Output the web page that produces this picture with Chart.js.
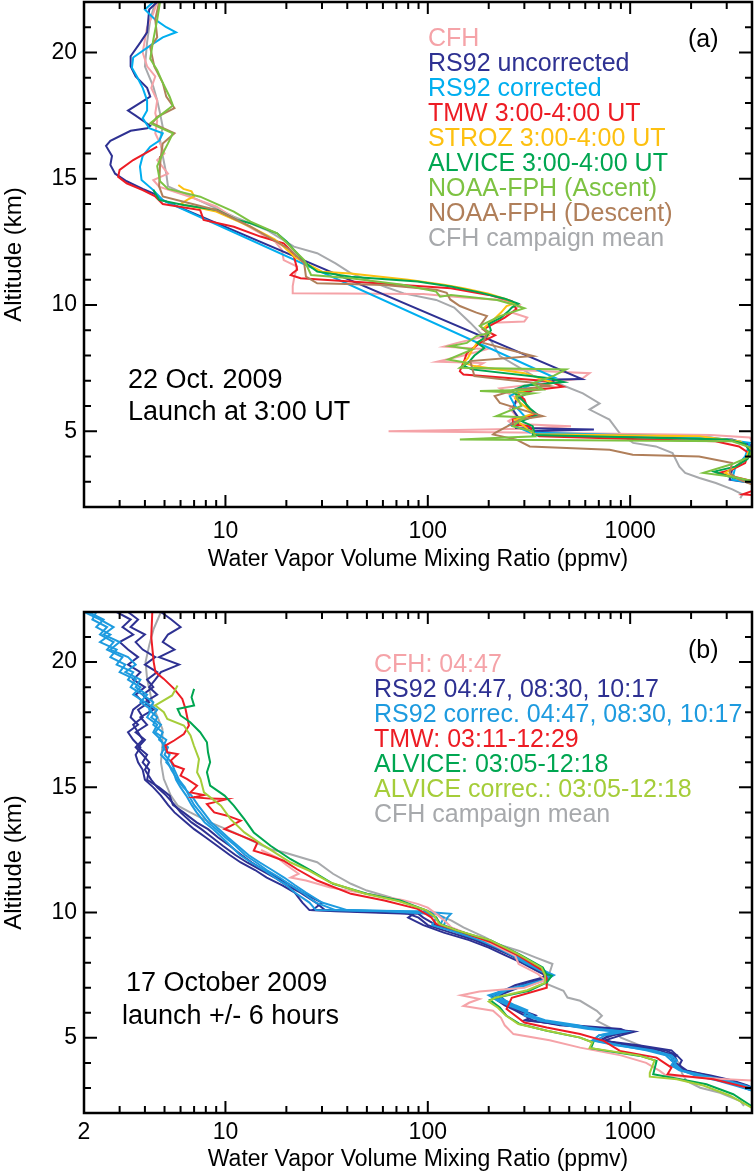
<!DOCTYPE html>
<html>
<head>
<meta charset="utf-8">
<title>Water vapour profiles</title>
<script src="https://cdn.jsdelivr.net/npm/chart.js@4.4.1/dist/chart.umd.min.js"></script>
<style>
  html, body { margin: 0; padding: 0; background: #fff; }
  #page { position: relative; width: 754px; height: 1176px; overflow: hidden; }
  #page canvas { position: absolute; left: 0; }
</style>
</head>
<body>
<div id="page">
  <canvas id="panelA" width="754" height="588" style="top:0"></canvas>
  <canvas id="panelB" width="754" height="588" style="top:588px"></canvas>
</div>
<script>
// ---------- panel (a): 22 Oct. 2009 (altitude km / mixing ratio ppmv) ----------
const aCfhAlt = [22.0, 21.55, 21.0, 20.5, 20.0, 19.45, 19.05, 18.6, 18.1, 17.6, 17.3, 16.8, 16.4, 16.0, 15.74, 15.2, 14.95, 14.69, 14.29, 13.9, 13.37, 12.84, 12.51, 12.18, 11.78, 11.52, 11.12, 10.75, 10.47, 10.44, 10.3, 10.2, 10.0, 9.7, 9.5, 9.35, 9.3, 9.05, 8.8, 8.5, 8.35, 8.25, 8.0, 7.75, 7.7, 7.5, 7.3, 7.1, 6.95, 6.7, 6.5, 6.25, 5.9, 5.6, 5.4, 5.3, 5.2, 5.1, 5.0, 4.95, 4.85, 4.75, 4.5, 4.3, 4.1];
const aCfhPpmv = [4.6, 4.4, 4.1, 4.0, 3.9, 4.1, 4.5, 4.3, 4.6, 4.5, 4.6, 4.5, 4.75, 5.0, 4.6, 5.2, 4.4, 4.7, 6.6, 9.0, 11.4, 14.9, 17.6, 19.0, 19.4, 22.6, 21.9, 21.5, 21.5, 95, 150, 230, 285, 260, 310, 300, 210, 188, 200, 140, 120, 196, 150, 111, 188, 170, 630, 583, 420, 227, 250, 285, 254, 274, 250, 260, 510, 300, 64, 280, 2500, 3900, 4100, 3900, 4500];

const aRs92uAlt = [22.0, 21.7, 20.8, 20.4, 19.85, 19.45, 19.05, 18.6, 18.25, 17.7, 17.5, 17.1, 17.0, 16.9, 16.5, 16.3, 15.9, 15.55, 15.2, 14.9, 14.6, 14.35, 14.15, 7.07, 7.05, 6.65, 6.26, 5.86, 5.46, 5.13, 5.07, 5.0, 4.87, 4.67, 4.47, 4.0, 3.48, 3.08, 2.95];
const aRs92uPpmv = [4.6, 4.2, 4.1, 3.8, 3.4, 3.4, 3.6, 4.1, 4.25, 3.3, 3.6, 4.25, 4.1, 3.4, 2.7, 2.57, 2.75, 2.7, 2.85, 3.25, 3.9, 4.6, 4.9, 578, 431, 331, 274, 263, 285, 274, 662, 331, 355, 3190, 3900, 3900, 3190, 3100, 4030];

const aRs92cAlt = [22.0, 21.7, 21.3, 21.0, 20.8, 20.6, 20.3, 19.8, 19.4, 19.05, 18.6, 18.1, 17.7, 17.4, 17.0, 16.8, 16.5, 16.27, 15.9, 15.48, 14.95, 14.55, 14.15, 7.12, 6.9, 6.39, 6.0, 5.6, 5.26, 5.13, 4.95, 4.75, 4.54, 4.0, 3.54, 3.08, 2.95];
const aRs92cPpmv = [4.4, 4.0, 4.5, 5.1, 5.7, 4.9, 4.3, 3.5, 3.45, 3.65, 3.9, 4.1, 4.1, 3.9, 4.2, 4.9, 4.7, 4.25, 3.9, 3.78, 3.85, 4.4, 4.9, 425, 330, 254, 270, 300, 254, 285, 320, 2500, 3900, 3700, 3300, 3190, 4030];

const aTmwAlt = [16.27, 15.74, 15.35, 15.08, 14.82, 14.55, 14.3, 14.0, 13.76, 13.37, 13.1, 12.71, 12.44, 12.18, 11.92, 11.5, 11.39, 11.27, 11.19, 11.06, 10.93, 10.66, 10.4, 10.15, 9.83, 9.5, 9.03, 8.8, 8.5, 8.1, 7.84, 7.38, 7.25, 6.98, 6.76, 6.65, 6.52, 6.26, 5.95, 5.66, 5.46, 5.26, 5.2, 4.93, 4.8, 4.69, 4.6, 4.4, 4.14, 3.74, 3.48, 3.35, 3.22, 3.02, 2.75, 2.5, 2.45];
const aTmwPpmv = [4.6, 3.5, 3.0, 2.95, 3.25, 3.9, 4.5, 4.9, 7.5, 7.8, 11, 14.9, 19.4, 20.9, 21.8, 22.5, 22.6, 21.5, 21, 23.5, 41.6, 130, 200, 260, 274, 240, 188, 215, 181, 156, 152, 144, 150, 400, 466, 355, 274, 300, 310, 345, 263, 263, 318, 331, 355, 1030, 2640, 3450, 3850, 3700, 3190, 2740, 3190, 4030, 4400, 3600, 4400];

const aStrozAlt = [14.75, 14.6, 14.5, 14.3, 14.17, 14.0, 13.7, 13.1, 12.6, 12.31, 11.9, 11.65, 11.32, 11.25, 11.0, 10.8, 10.66, 10.45, 10.2, 10.05, 9.96, 9.7, 9.4, 9.1, 8.8, 8.5, 8.2, 7.9, 7.71, 7.58, 7.3, 6.92, 6.79, 6.55, 6.3, 6.0, 5.7, 5.45, 5.2, 5.0, 4.88, 4.8, 4.6, 4.3, 3.87, 3.6, 3.35, 3.2, 3.0];
const aStrozPpmv = [5.85, 6.2, 6.8, 7.0, 6.5, 6.0, 9.0, 13.3, 17.5, 19.4, 22, 25, 30, 41.6, 80, 120, 150, 200, 250, 265, 245, 230, 210, 190, 200, 175, 165, 158, 150, 170, 300, 415, 370, 280, 270, 300, 330, 270, 300, 320, 340, 2200, 3500, 3900, 3700, 3300, 2950, 3190, 4100];

const aAlviceAlt = [14.56, 14.16, 13.96, 13.76, 13.37, 13.24, 12.84, 12.51, 12.18, 11.65, 11.32, 11.12, 10.93, 10.73, 10.5, 10.25, 10.05, 9.9, 9.75, 9.5, 9.25, 9.0, 8.75, 8.5, 8.3, 8.0, 7.75, 7.6, 7.45, 7.1, 6.95, 6.8, 6.6, 6.4, 6.15, 5.9, 5.65, 5.4, 5.2, 5.0, 4.85, 4.67, 4.5, 4.2, 3.9, 3.6, 3.4, 3.2, 3.0];
const aAlvicePpmv = [4.4, 4.7, 6.2, 9.1, 11.4, 13.3, 18, 20.1, 21.8, 25, 28.4, 41.6, 89, 130, 180, 240, 280, 260, 250, 230, 200, 205, 195, 175, 190, 170, 160, 150, 165, 400, 470, 300, 260, 280, 300, 320, 350, 290, 330, 335, 330, 3000, 3700, 3900, 3800, 3300, 2600, 3100, 4100];

const aNoaaAscAlt = [22.0, 21.3, 20.5, 19.75, 19.3, 18.8, 18.25, 17.9, 17.5, 17.2, 16.8, 16.4, 16.0, 15.5, 14.9, 14.6, 14.29, 13.7, 13.3, 12.84, 12.31, 11.78, 11.19, 11.06, 10.8, 10.53, 10.33, 10.4, 10.2, 10.0, 9.87, 9.56, 9.17, 8.9, 8.77, 8.5, 8.37, 8.24, 7.84, 7.71, 7.51, 7.45, 7.2, 6.9, 6.65, 6.59, 6.5, 6.39, 6.0, 5.6, 5.55, 5.2, 5.0, 4.8, 4.67, 4.6, 4.33, 4.0, 3.7, 3.35, 3.2, 3.02];
const aNoaaAscPpmv = [4.75, 4.6, 4.4, 4.25, 4.6, 4.9, 5.3, 5.5, 4.75, 4.25, 5.5, 5.2, 4.9, 4.6, 4.75, 5.2, 7.5, 11, 13.3, 18, 21, 24.5, 26.5, 41.6, 75, 110, 115, 130, 220, 270, 300, 227, 181, 203, 174, 156, 129, 166, 126, 156, 144, 483, 420, 330, 370, 181, 330, 274, 290, 218, 300, 263, 330, 340, 144, 3190, 4030, 3900, 3200, 2300, 3190, 4030];

const aNoaaDescAlt = [22.0, 21.3, 20.6, 20.2, 19.45, 18.8, 18.25, 17.8, 17.45, 17.2, 16.8, 16.4, 15.9, 15.5, 14.7, 14.3, 13.76, 13.1, 12.18, 11.65, 11.12, 10.86, 10.79, 10.6, 10.48, 10.22, 9.96, 9.7, 9.56, 9.17, 8.9, 8.5, 7.98, 7.78, 7.18, 6.92, 6.79, 6.65, 6.39, 6.12, 5.6, 5.46, 4.93, 4.87, 4.67, 4.4, 4.27, 4.07, 4.0, 3.74, 3.35, 3.08, 2.88];
const aNoaaDescPpmv = [4.7, 4.5, 4.6, 4.25, 4.45, 4.9, 5.1, 5.6, 4.6, 4.35, 5.6, 4.9, 4.8, 4.75, 4.7, 4.9, 9.0, 13.3, 21, 24.5, 25, 28.4, 61, 110, 124, 129, 144, 174, 196, 181, 196, 188, 331, 162, 170, 331, 400, 274, 214, 227, 370, 285, 214, 210, 274, 319, 792, 1030, 2190, 3190, 3100, 3450, 4030];

const aMeanAlt = [22.0, 21.3, 20.4, 19.45, 18.65, 18.1, 17.6, 17.05, 16.55, 15.9, 15.2, 14.7, 14.43, 13.5, 12.97, 12.31, 12.05, 11.65, 11.26, 10.73, 10.46, 10.2, 9.9, 9.3, 8.9, 8.64, 7.98, 7.2, 6.92, 6.5, 6.1, 5.86, 5.46, 4.93, 4.54, 4.4, 4.14, 3.6, 3.35, 3.15, 2.95, 2.7, 2.5, 2.35];
const aMeanPpmv = [4.5, 4.25, 4.1, 4.0, 4.4, 4.6, 4.75, 4.9, 4.75, 4.9, 5.1, 5.2, 6.2, 11, 16, 21.8, 28.4, 35, 41.6, 61, 76, 110, 135, 162, 181, 203, 227, 331, 432, 584, 706, 630, 790, 886, 1034, 1340, 1620, 1750, 1870, 2200, 2650, 3200, 3590, 3500];

// ---------- panel (b): 17 October 2009 ----------
// the six radiosonde profiles share one altitude list
const bSondeAlt = [22.0, 21.7, 21.4, 21.1, 20.8, 20.5, 20.2, 19.9, 19.6, 19.3, 19.0, 18.7, 18.4, 18.1, 17.8, 17.5, 17.2, 16.9, 16.6, 16.3, 16.0, 15.7, 15.3, 15.0, 14.67, 14.3, 14.0, 13.6, 13.33, 13.0, 12.67, 12.3, 12.0, 11.7, 11.4, 11.1, 10.8, 10.4, 10.1, 10.05, 9.95, 9.8, 9.5, 9.2, 8.9, 8.6, 8.3, 8.0, 7.7, 7.5, 7.3, 7.1, 6.9, 6.7, 6.5, 6.3, 6.1, 5.9, 5.7, 5.5, 5.35, 5.25, 5.1, 4.9, 4.7, 4.5, 4.3, 4.1, 3.9, 3.7, 3.5, 3.3, 3.1, 2.9];
const bRs92_0447 = [2.9, 3.4, 3.1, 3.5, 3.0, 3.3, 3.7, 3.3, 3.8, 3.5, 4.0, 3.6, 3.9, 3.5, 3.4, 3.7, 3.3, 3.5, 3.8, 3.6, 3.7, 3.9, 4.0, 4.4, 4.8, 5.2, 5.6, 6.4, 7.0, 8.0, 9.1, 10.5, 11.9, 14, 16, 19, 22, 24, 26, 60, 85, 80, 95, 120, 160, 200, 240, 290, 340, 380, 350, 290, 250, 215, 230, 250, 280, 320, 310, 480, 700, 1010, 820, 700, 1100, 1600, 1700, 1800, 1750, 1900, 2400, 3100, 3700, 4200];
const bRs92_0830 = [3.3, 3.7, 3.4, 4.0, 3.6, 3.9, 4.5, 4.0, 4.6, 4.1, 4.4, 3.9, 4.2, 3.7, 3.9, 3.5, 3.7, 3.9, 3.6, 3.9, 4.2, 4.0, 4.3, 4.6, 5.1, 5.6, 6.0, 6.8, 7.6, 8.6, 9.7, 11.2, 12.8, 15, 17.5, 20, 23.5, 28, 31, 45, 90, 95, 110, 140, 175, 215, 260, 310, 360, 395, 360, 300, 260, 225, 240, 265, 290, 340, 300, 520, 900, 960, 780, 720, 1000, 1500, 1700, 1600, 1750, 1850, 2500, 3200, 3800, 4300];
const bRs92_1017 = [4.8, 5.4, 6.0, 5.2, 4.9, 5.6, 4.7, 5.9, 4.8, 4.5, 4.2, 4.6, 4.0, 4.4, 3.8, 4.1, 3.6, 4.0, 3.7, 4.1, 3.9, 4.2, 4.1, 4.7, 5.3, 5.5, 6.2, 7.2, 8.2, 9.2, 10.5, 12, 13.5, 15.5, 18, 21, 24, 30, 27, 35, 80, 90, 100, 130, 170, 210, 255, 300, 350, 410, 330, 270, 240, 205, 220, 240, 270, 300, 330, 450, 800, 1050, 900, 750, 950, 1400, 1650, 1700, 1600, 1800, 2200, 2900, 3400, 4000];
const bRs92c_0447 = [2.1, 2.5, 2.3, 2.7, 2.4, 2.9, 2.7, 3.2, 3.0, 3.6, 3.4, 3.9, 4.4, 4.2, 4.6, 4.4, 4.9, 4.7, 5.2, 5.0, 5.4, 5.6, 5.9, 6.3, 6.6, 7.0, 7.5, 8.2, 9.0, 10.0, 11.2, 12.5, 14.2, 16, 18.5, 21, 24, 28, 35, 60, 110, 120, 115, 150, 190, 230, 270, 320, 370, 420, 380, 310, 240, 200, 220, 250, 290, 330, 350, 500, 700, 950, 750, 680, 900, 1300, 1600, 1700, 1650, 1800, 2300, 3000, 3700, 4300];
const bRs92c_0830 = [2.3, 2.2, 2.6, 2.4, 2.8, 2.6, 3.1, 2.9, 3.5, 3.3, 3.8, 3.5, 4.0, 4.6, 4.3, 4.8, 4.5, 5.1, 4.9, 5.3, 5.1, 5.5, 5.7, 6.0, 6.4, 6.8, 7.2, 7.9, 8.7, 9.6, 10.6, 11.8, 13.4, 15.5, 17.5, 20, 22, 26, 28, 90, 130, 125, 120, 145, 185, 225, 265, 310, 360, 405, 370, 300, 235, 210, 230, 260, 300, 320, 380, 550, 650, 900, 700, 650, 850, 1250, 1550, 1650, 1600, 1750, 2200, 2900, 3500, 4100];
const bRs92c_1017 = [2.0, 2.4, 2.8, 2.5, 3.0, 2.7, 3.3, 3.6, 3.2, 3.8, 3.6, 4.1, 3.8, 4.3, 4.1, 4.6, 4.4, 4.8, 5.0, 4.8, 5.2, 5.4, 5.8, 6.2, 6.8, 7.3, 7.8, 8.5, 9.3, 10.3, 11.5, 13, 14.8, 17, 19.5, 22, 25, 30, 40, 70, 100, 110, 105, 140, 180, 220, 260, 300, 355, 400, 375, 320, 245, 220, 240, 270, 310, 300, 360, 480, 620, 850, 700, 660, 880, 1200, 1500, 1600, 1700, 1800, 2100, 2700, 3300, 4000];

const bCfhAlt = [12.5, 12.2, 11.9, 11.55, 11.4, 11.28, 11.0, 10.75, 10.5, 10.35, 10.2, 9.95, 9.7, 9.41, 8.88, 8.28, 7.95, 7.55, 7.3, 7.0, 6.85, 6.7, 6.55, 6.4, 6.27, 6.08, 5.8, 5.5, 5.15, 4.9, 4.61, 4.3, 4.0, 3.68, 3.5, 3.35, 3.28];
const bCfhPpmv = [15, 18, 20, 23, 21, 25, 33, 50, 75, 89, 100, 110, 120, 131, 192, 270, 281, 350, 380, 300, 180, 146, 180, 160, 150, 210, 230, 240, 265, 400, 566, 900, 1200, 1400, 1500, 3000, 4300];

const bTmwAlt = [22.0, 21.0, 20.0, 19.6, 19.33, 18.93, 18.53, 18.13, 17.47, 17.13, 16.87, 16.67, 16.4, 16.33, 16.07, 15.87, 15.73, 15.47, 15.33, 15.07, 14.8, 14.69, 14.6, 14.55, 14.53, 14.33, 14.0, 13.87, 13.67, 13.33, 13.07, 12.8, 12.47, 12.27, 12.07, 11.73, 11.28, 10.75, 10.48, 10.15, 9.81, 9.55, 9.28, 8.81, 8.28, 7.68, 7.41, 7.0, 6.6, 6.15, 5.61, 5.41, 5.15, 4.88, 4.48, 4.21, 3.81, 3.55, 3.35, 2.95];
const bTmwPpmv = [4.35, 4.3, 4.42, 4.51, 4.96, 5.58, 6.12, 6.35, 6.6, 6.23, 5.58, 5.05, 5.16, 5.81, 5.37, 5.58, 6.23, 6.0, 6.47, 7.24, 6.72, 7.83, 6.98, 8.4, 10.2, 8.1, 8.8, 10.2, 11.9, 9.9, 11.9, 14.4, 13.8, 16.7, 19.4, 22.6, 28.4, 41.7, 61, 89, 104, 110, 140, 206, 281, 370, 385, 387, 260, 245, 300, 387, 566, 740, 890, 1350, 1600, 1530, 2580, 4100];

const bAlviceAlt = [18.93, 18.6, 18.27, 18.13, 17.87, 17.6, 17.2, 16.8, 16.4, 16.0, 15.6, 15.07, 14.67, 14.27, 13.73, 13.2, 12.67, 12.13, 11.68, 11.15, 10.75, 10.48, 10.08, 9.81, 9.55, 9.28, 8.88, 8.35, 7.81, 7.55, 7.48, 7.21, 6.88, 6.61, 6.51, 6.21, 5.88, 5.55, 5.28, 5.01, 4.81, 4.59, 4.48, 4.28, 4.08, 3.55, 3.35, 3.15, 2.75, 2.21];
const bAlvicePpmv = [7.0, 6.8, 7.0, 5.8, 6.0, 6.7, 7.5, 8.1, 8.2, 8.4, 8.1, 8.4, 9.9, 11.0, 12.4, 13.8, 16.7, 21, 26.5, 34, 50, 73, 99, 110, 115, 140, 206, 281, 370, 385, 410, 387, 317, 219, 203, 227, 245, 285, 387, 566, 657, 640, 765, 1120, 1350, 1300, 1767, 2380, 3230, 4100];

const bAlviceCAlt = [19.07, 18.67, 18.27, 18.0, 17.73, 17.47, 17.07, 16.67, 16.13, 15.6, 15.33, 14.8, 14.27, 13.73, 13.2, 12.67, 12.0, 11.67, 11.2, 10.75, 10.45, 10.1, 9.85, 9.55, 9.3, 8.9, 8.35, 7.8, 7.5, 7.2, 6.9, 6.6, 6.45, 6.2, 5.9, 5.55, 5.3, 5.02, 4.82, 4.6, 4.5, 4.3, 4.1, 3.6, 3.45, 3.35, 3.1, 2.7, 2.2];
const bAlviceCPpmv = [5.8, 5.45, 4.5, 4.96, 5.16, 6.23, 6.72, 6.98, 7.4, 7.24, 7.53, 7.83, 9.5, 10.6, 12.4, 15.5, 21, 26, 33, 49, 72, 98, 108, 114, 138, 203, 278, 365, 380, 380, 310, 215, 200, 222, 242, 280, 380, 560, 650, 630, 760, 1100, 1320, 1250, 1250, 1700, 2300, 3100, 4000];

const bMeanAlt = [22.0, 21.33, 20.67, 20.0, 19.33, 18.67, 18.0, 17.33, 16.67, 16.0, 15.33, 14.67, 14.27, 14.0, 13.6, 13.2, 12.53, 12.41, 12.01, 11.55, 11.15, 10.88, 10.61, 10.21, 9.95, 9.68, 9.41, 9.01, 8.75, 8.48, 8.21, 7.95, 7.6, 7.15, 6.88, 6.61, 6.48, 6.08, 5.88, 5.68, 5.41, 5.01, 4.75, 4.48, 4.21, 3.95, 3.6, 3.28, 3.01, 2.81, 2.48, 2.28];
const bMeanPpmv = [4.8, 4.42, 4.2, 4.03, 4.1, 4.27, 4.51, 4.88, 4.88, 4.8, 4.96, 5.37, 5.81, 6.7, 8.4, 11, 16.7, 19.4, 28.4, 34, 41.7, 50, 65, 89, 110, 131, 150, 192, 220, 281, 340, 413, 400, 387, 468, 490, 566, 684, 725, 684, 795, 900, 1080, 1300, 1640, 1767, 1800, 1900, 2220, 2780, 3500, 3650];

// axis labels and legends
const aTickLabels = [10, 100, 1000];
const bTickLabels = [2, 10, 100, 1000];
const altTickLabels = [5, 10, 15, 20];
const aLegend = ['CFH', 'RS92 uncorrected', 'RS92 corrected', 'TMW 3:00-4:00 UT', 'STROZ 3:00-4:00 UT', 'ALVICE 3:00-4:00 UT', 'NOAA-FPH (Ascent)', 'NOAA-FPH (Descent)', 'CFH campaign mean'];
const bLegend = ['CFH: 04:47', 'RS92 04:47, 08:30, 10:17', 'RS92 correc. 04:47, 08:30, 10:17', 'TMW: 03:11-12:29', 'ALVICE: 03:05-12:18', 'ALVICE correc.: 03:05-12:18', 'CFH campaign mean'];

// colours
const PINK = '#F5A3A8', NAVY = '#2E3192', SKY = '#00AEEF', SKY_B = '#1E9BDF', RED = '#ED1C24';
const GOLD = '#FDC010', GREEN = '#00A651', LIME = '#7DC242', LIME_B = '#A5CD39', BROWN = '#B07F5A', GREY = '#A7A9AC';
const aLegendColors = [PINK, NAVY, SKY, RED, GOLD, GREEN, LIME, BROWN, GREY];
const bLegendColors = [PINK, NAVY, SKY_B, RED, GREEN, LIME_B, GREY];

const FONT = '"Liberation Sans", Arial, Helvetica, sans-serif';
Chart.defaults.font.family = FONT;
Chart.defaults.color = '#000';

// pair an altitude list with a mixing ratio list -> scatter points
function profile(alt, ppmv) {
  return alt.map((a, i) => ({ x: ppmv[i], y: a }));
}

function line(label, alt, ppmv, color) {
  return {
    label: label,
    data: profile(alt, ppmv),
    borderColor: color,
    backgroundColor: color,
    borderWidth: 2,
    showLine: true,
    pointRadius: 0,
    pointHoverRadius: 0,
    tension: 0,
    fill: false
  };
}

// frame + inward tick marks on all four sides
const axisFrame = {
  id: 'axisFrame',
  afterDatasetsDraw(chart) {
    const { ctx, chartArea, scales } = chart;
    const { left, right, top, bottom } = chartArea;
    const x = scales.x, y = scales.y;
    ctx.save();
    ctx.strokeStyle = '#000';
    ctx.lineWidth = 2;
    ctx.beginPath();
    for (let d = 1; d <= 1000; d *= 10) {
      for (let m = 1; m <= 9; m++) {
        const v = m * d;
        if (v <= x.min || v >= x.max) continue;
        const px = x.getPixelForValue(v);
        const len = m === 1 ? 12 : 7;
        ctx.moveTo(px, bottom); ctx.lineTo(px, bottom - len);
        ctx.moveTo(px, top); ctx.lineTo(px, top + len);
      }
    }
    for (let km = 3; km <= 21; km++) {
      const py = y.getPixelForValue(km);
      const len = km % 5 === 0 ? 13 : 7;
      ctx.moveTo(left, py); ctx.lineTo(left + len, py);
      ctx.moveTo(right, py); ctx.lineTo(right - len, py);
    }
    ctx.stroke();
    ctx.lineWidth = 2.5;
    ctx.strokeRect(left, top, right - left, bottom - top);
    ctx.restore();
  }
};

// coloured text legend, panel tag and the date note
function panelText(cfg) {
  return {
    id: 'panelText',
    afterDraw(chart) {
      const ctx = chart.ctx;
      ctx.save();
      ctx.textAlign = 'left';
      ctx.textBaseline = 'alphabetic';
      ctx.font = cfg.legendSize + 'px ' + FONT;
      cfg.legend.forEach((t, i) => {
        ctx.fillStyle = cfg.colors[i];
        ctx.fillText(t, cfg.legendX, cfg.legendY + i * 25);
      });
      ctx.fillStyle = '#000';
      ctx.font = '25px ' + FONT;
      ctx.fillText(cfg.tag, 688, cfg.tagY);
      ctx.font = '27px ' + FONT;
      cfg.notes.forEach((n) => ctx.fillText(n.text, n.x, n.y));
      ctx.restore();
    }
  };
}

function panelOptions(o) {
  return {
    responsive: false,
    animation: false,
    events: [],
    layout: { autoPadding: false, padding: { left: 0, right: 2, top: o.top, bottom: 0 } },
    plugins: { legend: { display: false }, tooltip: { enabled: false } },
    scales: {
      x: {
        type: 'logarithmic',
        min: 2,
        max: 4000,
        grid: { display: false, drawTicks: false },
        border: { display: false },
        afterBuildTicks: (s) => { s.ticks = o.xLabels.map((v) => ({ value: v })); },
        afterFit: (s) => { s.height = o.xHeight; s.paddingLeft = 0; s.paddingRight = 0; },
        ticks: {
          callback: (v) => String(v),
          font: { size: 23 },
          color: '#000',
          padding: o.labelPad,
          autoSkip: false,
          maxRotation: 0,
          minRotation: 0
        },
        title: {
          display: true,
          text: 'Water Vapor Volume Mixing Ratio (ppmv)',
          font: { size: 23 },
          color: '#000',
          padding: { top: 0, bottom: o.titlePad }
        }
      },
      y: {
        type: 'linear',
        min: 2,
        max: 22,
        grid: { display: false, drawTicks: false },
        border: { display: false },
        afterBuildTicks: (s) => { s.ticks = altTickLabels.map((v) => ({ value: v })); },
        afterFit: (s) => { s.width = 84; s.paddingTop = 0; s.paddingBottom = 0; },
        ticks: { font: { size: 23 }, color: '#000', padding: 7 },
        title: {
          display: true,
          text: 'Altitude (km)',
          font: { size: 24 },
          color: '#000',
          padding: { top: 0, bottom: 0 }
        }
      }
    }
  };
}

// panel (a)
new Chart(document.getElementById('panelA'), {
  type: 'scatter',
  data: {
    datasets: [
      line('NOAA-FPH (Ascent)', aNoaaAscAlt, aNoaaAscPpmv, LIME),
      line('NOAA-FPH (Descent)', aNoaaDescAlt, aNoaaDescPpmv, BROWN),
      line('ALVICE', aAlviceAlt, aAlvicePpmv, GREEN),
      line('STROZ', aStrozAlt, aStrozPpmv, GOLD),
      line('TMW', aTmwAlt, aTmwPpmv, RED),
      line('RS92 corrected', aRs92cAlt, aRs92cPpmv, SKY),
      line('RS92 uncorrected', aRs92uAlt, aRs92uPpmv, NAVY),
      line('CFH', aCfhAlt, aCfhPpmv, PINK),
      line('CFH campaign mean', aMeanAlt, aMeanPpmv, GREY)
    ]
  },
  options: panelOptions({ top: 2, xHeight: 81, labelPad: 11, titlePad: 15, xLabels: aTickLabels }),
  plugins: [axisFrame, panelText({
    legend: aLegend, colors: aLegendColors, legendSize: 25, legendX: 428, legendY: 46,
    tag: '(a)', tagY: 47,
    notes: [{ text: '22 Oct. 2009', x: 128, y: 388 }, { text: 'Launch at 3:00 UT', x: 128, y: 420 }]
  })]
});

// panel (b)
new Chart(document.getElementById('panelB'), {
  type: 'scatter',
  data: {
    datasets: [
      line('ALVICE correc.', bAlviceCAlt, bAlviceCPpmv, LIME_B),
      line('ALVICE', bAlviceAlt, bAlvicePpmv, GREEN),
      line('TMW', bTmwAlt, bTmwPpmv, RED),
      line('CFH 04:47', bCfhAlt, bCfhPpmv, PINK),
      line('RS92 correc. 04:47', bSondeAlt, bRs92c_0447, SKY_B),
      line('RS92 correc. 08:30', bSondeAlt, bRs92c_0830, SKY_B),
      line('RS92 correc. 10:17', bSondeAlt, bRs92c_1017, SKY_B),
      line('RS92 04:47', bSondeAlt, bRs92_0447, NAVY),
      line('RS92 08:30', bSondeAlt, bRs92_0830, NAVY),
      line('RS92 10:17', bSondeAlt, bRs92_1017, NAVY),
      line('CFH campaign mean', bMeanAlt, bMeanPpmv, GREY)
    ]
  },
  options: panelOptions({ top: 24, xHeight: 63, labelPad: 6, titlePad: 3, xLabels: bTickLabels }),
  plugins: [axisFrame, panelText({
    legend: bLegend, colors: bLegendColors, legendSize: 25, legendX: 374, legendY: 84,
    tag: '(b)', tagY: 70,
    notes: [{ text: '17 October 2009', x: 126, y: 403 }, { text: 'launch +/- 6 hours', x: 122, y: 436 }]
  })]
});
</script>
</body>
</html>
